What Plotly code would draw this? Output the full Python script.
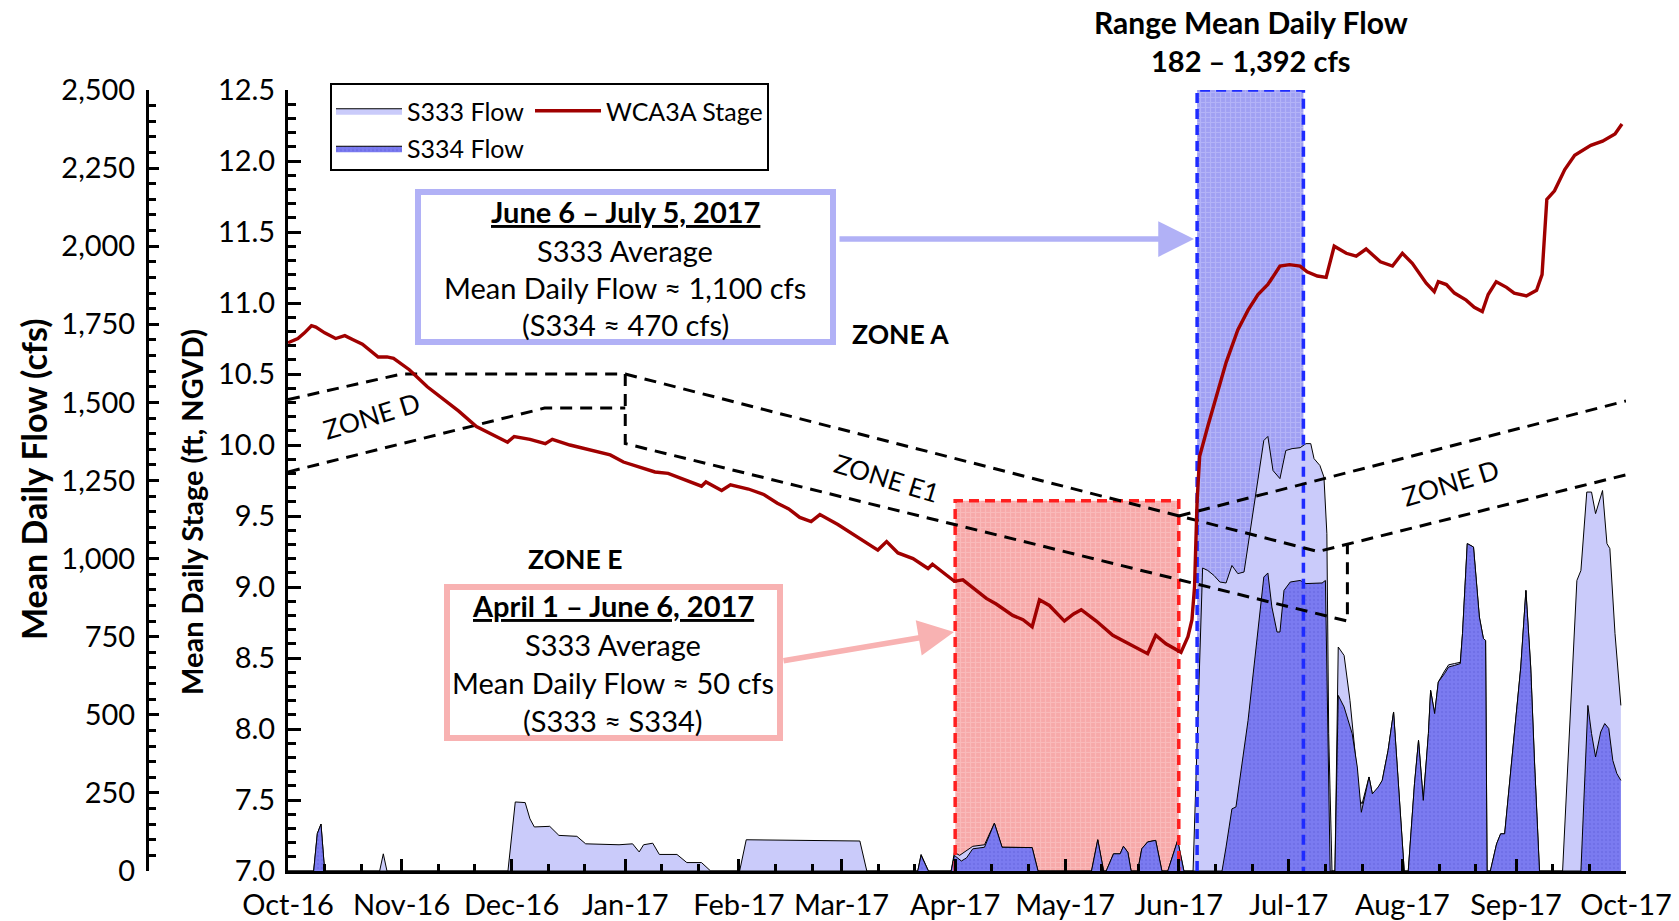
import pandas as pd
import plotly.graph_objects as go

BASE = pd.Timestamp("2016-10-01")

# ---------------- data (day = days since 2016-10-01) ----------------
stage_readings = [
    (0, 10.72), (2.7, 10.75), (4.5, 10.79), (6.4, 10.84), (7.6, 10.83), (10.0, 10.79), (13.0, 10.75),
    (15.5, 10.77), (17.9, 10.74), (20.3, 10.71), (24.6, 10.62), (27.0, 10.62), (28.8, 10.61),
    (33.1, 10.53), (38.0, 10.41), (41.6, 10.34), (46.5, 10.24), (51.4, 10.13), (56.2, 10.07),
    (59.9, 10.02), (61.7, 10.06), (66.0, 10.04), (70.2, 10.01), (72.1, 10.04), (76.9, 10.00),
    (81.8, 9.97), (87.9, 9.93), (91.5, 9.88), (95.2, 9.85), (100.1, 9.81), (103.7, 9.80),
    (108.0, 9.76), (112.8, 9.71), (114.0, 9.74), (118.3, 9.68), (120.7, 9.72), (125.6, 9.69),
    (129.9, 9.65), (133.5, 9.59), (136.6, 9.55), (139.6, 9.49), (142.7, 9.46), (145.1, 9.51),
    (150.0, 9.44), (156.1, 9.34), (160.9, 9.26), (163.3, 9.32), (166.4, 9.24), (170.5, 9.20),
    (174.6, 9.13), (175.8, 9.16), (178.7, 9.10), (181.8, 9.04), (184.1, 9.05), (190.5, 8.92),
    (193.2, 8.88), (197.7, 8.80), (200.5, 8.77), (203.0, 8.72), (205.0, 8.91), (207.7, 8.87),
    (211.8, 8.76), (214.3, 8.81), (216.4, 8.84), (220.5, 8.76), (225.0, 8.66), (228.7, 8.61),
    (231.2, 8.58), (234.5, 8.53), (236.7, 8.66), (239.5, 8.60), (243.6, 8.54), (245.5, 8.65),
    (246.6, 8.77), (247.3, 9.00), (248.0, 9.61), (248.7, 9.92), (250.9, 10.13), (253.1, 10.32),
    (255.9, 10.58), (259.1, 10.81), (261.9, 10.95), (264.6, 11.06), (267.3, 11.13), (270.6, 11.26),
    (273.2, 11.27), (276.1, 11.26), (278.0, 11.22), (280.8, 11.19), (283.2, 11.18), (285.4, 11.40),
    (288.7, 11.35), (291.4, 11.33), (294.1, 11.38), (298.0, 11.29), (301.3, 11.26), (304.0, 11.35),
    (306.7, 11.28), (310.5, 11.14), (312.7, 11.08), (313.8, 11.15), (316.0, 11.13), (318.2, 11.07),
    (321.4, 11.02), (323.6, 10.97), (325.8, 10.94), (327.4, 11.06), (329.6, 11.15), (332.4, 11.11),
    (334.5, 11.07), (337.8, 11.05), (340.6, 11.09), (342.1, 11.20), (343.4, 11.73), (345.5, 11.79),
    (348.3, 11.94), (351.0, 12.04), (355.4, 12.11), (358.6, 12.14), (362.0, 12.19), (363.9, 12.26),
]

s333_readings = [
    (0, 0), (7, 0), (8, 120), (9, 150), (10, 0), (25, 0), (26, 55), (27, 0), (60, 0), (62, 221),
    (64.7, 219), (66, 167), (67.2, 141), (71.4, 143), (73.9, 114), (78.8, 111), (81.2, 87), (90.3, 84),
    (94, 87), (95.8, 61), (97, 84), (99.5, 89), (101.3, 53), (106.1, 53), (108.8, 27), (112.8, 27),
    (115.3, 0), (123.2, 0), (125, 100), (140, 98), (156, 96), (157.9, 0), (171.8, 0), (172.7, 53),
    (174.7, 0), (180.9, 0), (181.8, 60), (183.2, 50), (186.8, 79), (190, 84), (192.7, 153), (194.8, 76),
    (203, 75), (204.6, 0), (219.2, 0), (220.9, 100), (222.5, 0), (223.2, 0), (225.2, 55), (227, 55),
    (227.9, 79), (229.1, 60), (230, 0), (231.8, 0), (232.9, 71), (234.5, 93), (236.7, 98), (238.4, 0),
    (240, 0), (242.7, 98), (244.4, 0), (246.9, 0), (249.5, 970), (250.9, 962), (252.6, 946),
    (254.2, 925), (255.9, 922), (257.5, 978), (259.1, 952), (260.8, 957), (262.4, 1080), (264.6, 1240),
    (266.2, 1378), (267.3, 1391), (268.7, 1282), (270.6, 1256), (272.2, 1346), (273.9, 1352),
    (276.1, 1355), (277.7, 1368), (279.0, 1368), (279.9, 1320), (281.5, 1298), (282.6, 1261),
    (283.4, 1080), (283.9, 440), (284.8, 0), (285.6, 0), (286.5, 717), (288.1, 690), (289.7, 546),
    (291.4, 343), (292.2, 231), (293.0, 215), (294.9, 301), (295.8, 247), (297.4, 263), (298.5, 290),
    (300.1, 386), (301.6, 509), (302.9, 269), (304.5, 0), (305.6, 0), (307.3, 279), (308.4, 418),
    (309.7, 226), (311.1, 440), (311.7, 578), (312.8, 504), (313.8, 605), (315.5, 640), (316.6, 660),
    (318.2, 664), (319.8, 668), (320.4, 760), (321.7, 1048), (323.4, 1037), (325.0, 813), (326.1, 744),
    (326.7, 738), (327.1, 0), (328.0, 0), (329.7, 87), (330.8, 119), (331.9, 119), (334.6, 440),
    (336.3, 653), (337.7, 898), (339.0, 653), (340.1, 333), (341.4, 0), (347.7, 0), (349.9, 546),
    (351.6, 930), (352.7, 962), (354.3, 1213), (355.6, 1213), (356.7, 1144), (358.6, 1218),
    (359.8, 1048), (360.6, 1032), (362.0, 760), (363.6, 530),
]

s334_readings = [
    (0, 0), (7, 0), (8, 120), (9, 150), (10, 0), (171.8, 0), (172.7, 50), (174.7, 0), (180.9, 0),
    (181.8, 50), (183.7, 32), (185.1, 42), (186.8, 71), (190, 76), (192.7, 153), (194.8, 76), (203, 75),
    (204.6, 0), (219.2, 0), (220.9, 100), (222.5, 0), (223.2, 0), (225.2, 55), (227, 55), (227.9, 79),
    (229.1, 60), (230, 0), (231.8, 0), (232.9, 71), (234.5, 93), (236.7, 98), (238.4, 0), (240, 0),
    (242.7, 98), (244.4, 0), (254.8, 0), (255.9, 77), (257.5, 199), (258.6, 205), (260.2, 333),
    (261.9, 482), (263.5, 653), (265.2, 824), (266.2, 941), (267.3, 954), (268.4, 845), (269.8, 765),
    (270.6, 765), (271.7, 898), (273.4, 925), (276.1, 930), (277.7, 920), (282.1, 922), (283.0, 930),
    (284.3, 0), (285.6, 0), (286.5, 562), (288.1, 525), (290.3, 440), (291.7, 333), (292.8, 188),
    (294.9, 301), (295.8, 247), (297.4, 269), (298.5, 290), (300.1, 386), (301.6, 509), (302.9, 269),
    (304.5, 0), (305.6, 0), (307.3, 279), (308.4, 418), (309.7, 226), (311.1, 440), (311.7, 578),
    (312.8, 504), (313.8, 605), (315.5, 632), (316.6, 653), (318.2, 658), (319.8, 664), (320.4, 760),
    (321.7, 1048), (323.4, 1037), (325.0, 813), (326.1, 744), (326.7, 738), (327.1, 0), (328.0, 0),
    (329.7, 87), (330.8, 119), (331.9, 119), (334.6, 440), (336.3, 653), (337.7, 898), (339.0, 653),
    (340.1, 333), (341.4, 0), (352.7, 0), (354.6, 530), (355.6, 440), (356.7, 365), (358.1, 445),
    (359.2, 472), (360.3, 456), (361.4, 354), (362.5, 312), (363.6, 290),
]

# regulation schedule boundaries (day, ft NGVD)
zone_a_line = [(0, 10.32), (31, 10.50), (92, 10.50), (281, 9.25), (365, 9.79)]
zone_d_right_top = [(243, 9.50), (365, 10.31)]
zone_d_left_bottom = [(0, 9.81), (70, 10.26), (92, 10.26)]
zone_e1_bottom = [(92, 10.50), (92, 10.01), (289, 8.76), (289, 9.31)]

month_ticks = ["2016-10-01", "2016-11-01", "2016-12-01", "2017-01-01", "2017-02-01", "2017-03-01",
               "2017-04-01", "2017-05-01", "2017-06-01", "2017-07-01", "2017-08-01", "2017-09-01",
               "2017-10-01"]
month_labels = ["Oct-16", "Nov-16", "Dec-16", "Jan-17", "Feb-17", "Mar-17", "Apr-17", "May-17",
                "Jun-17", "Jul-17", "Aug-17", "Sep-17", "Oct-17"]

dry_period = ("2017-04-01", "2017-06-01")
dry_top_cfs = 1185
wet_period = ("2017-06-06", "2017-07-05")
wet_top_cfs = 2500


def split(pairs):
    days = [BASE + pd.Timedelta(days=float(d)) for d, _ in pairs]
    vals = [v for _, v in pairs]
    return days, vals


# ---------------- geometry helpers (pixels -> paper) ----------------
W, H = 1679, 921
ML, MR, MT, MB = 100, 53, 90, 50
PW = W - ML - MR
PH = H - MT - MB


def px(x):
    return (x - ML) / PW


def py(y):
    return (H - MB - y) / PH


FONT = "Lato"
fig = go.Figure()

# highlight periods (flow axis = y)
for (p0, p1), top, bg, fg in [(dry_period, dry_top_cfs, "#F7A9A9", "#FCCCCC"),
                              (wet_period, wet_top_cfs, "#A0A0F3", "#C6C6FB")]:
    fig.add_trace(go.Scatter(
        x=[p0, p0, p1, p1, p0], y=[0, top, top, 0, 0], yaxis="y", fill="toself",
        fillcolor=bg, fillpattern=dict(shape="+", bgcolor=bg, fgcolor=fg, size=5, solidity=0.4),
        line=dict(width=0), mode="lines", showlegend=False, hoverinfo="skip"))

x333, y333 = split(s333_readings)
fig.add_trace(go.Scatter(x=x333, y=y333, yaxis="y", name="S333 Flow", mode="lines",
                         fill="tozeroy", fillcolor="#CACBFA",
                         line=dict(color="#000000", width=1), legend="legend", legendgroup="a"))
x334, y334 = split(s334_readings)
fig.add_trace(go.Scatter(x=x334, y=y334, yaxis="y", name="S334 Flow", mode="lines",
                         fill="tozeroy", fillcolor="#7B7BEE",
                         fillpattern=dict(shape=".", bgcolor="#7B7BF0", fgcolor="#6464DE", size=4, solidity=0.3),
                         line=dict(color="#000000", width=1), legend="legend", legendgroup="b"))

# dashed borders of highlight periods
for (p0, p1), top, col in [(dry_period, dry_top_cfs, "#FF1E1E"), (wet_period, wet_top_cfs, "#1E2BFF")]:
    fig.add_trace(go.Scatter(x=[p0, p0, p1, p1], y=[0, top, top, 0], yaxis="y", mode="lines",
                             line=dict(color=col, width=3.5, dash="10px,6px"), showlegend=False,
                             hoverinfo="skip"))

# regulation schedule lines (stage axis = y2)
for seg in [zone_a_line, zone_d_right_top, zone_d_left_bottom, zone_e1_bottom]:
    sx, sy = split(seg)
    fig.add_trace(go.Scatter(x=sx, y=sy, yaxis="y2", mode="lines",
                             line=dict(color="#000000", width=3, dash="12px,8px"),
                             showlegend=False, hoverinfo="skip"))

xs, ys = split(stage_readings)
fig.add_trace(go.Scatter(x=xs, y=ys, yaxis="y2", name="WCA3A Stage", mode="lines",
                         line=dict(color="#A00000", width=3.4), legend="legend2"))

minor_x = []
for m in month_ticks[:-1]:
    t = pd.Timestamp(m)
    minor_x += [str((t + pd.Timedelta(days=10)).date()), str((t + pd.Timedelta(days=20)).date())]

tickfont = dict(family=FONT, size=29, color="black")
fig.update_layout(
    width=W, height=H, margin=dict(l=ML, r=MR, t=MT, b=MB, autoexpand=False),
    paper_bgcolor="white", plot_bgcolor="white",
    font=dict(family=FONT, color="black"),
    xaxis=dict(type="date", domain=[px(288), 1], range=[month_ticks[0], month_ticks[-1]],
               tickmode="array", tickvals=month_ticks, ticktext=month_labels,
               ticks="inside", ticklen=12, tickwidth=3, tickcolor="black",
               showline=True, linewidth=3, linecolor="black", showgrid=False, zeroline=False,
               tickfont=tickfont, ticklabelstandoff=6,
               minor=dict(tickmode="array", tickvals=minor_x, ticks="inside", ticklen=7,
                          tickwidth=2.5, tickcolor="black", showgrid=False),
               anchor="y2"),
    yaxis=dict(range=[0, 2500], anchor="free", position=px(147), side="left",
               tickmode="linear", tick0=0, dtick=250, tickformat=",",
               ticks="inside", ticklen=10, tickwidth=3, tickcolor="black",
               showline=True, linewidth=3, linecolor="black", showgrid=False, zeroline=False,
               tickfont=tickfont, ticklabelstandoff=5,
               minor=dict(dtick=50, ticks="inside", ticklen=7, tickwidth=2.5, tickcolor="black",
                          showgrid=False)),
    yaxis2=dict(range=[7, 12.5], overlaying="y", anchor="x", side="left",
                tickmode="linear", tick0=7, dtick=0.5, tickformat=".1f",
                ticks="inside", ticklen=13, tickwidth=3, tickcolor="black",
                showline=True, linewidth=3, linecolor="black", showgrid=False, zeroline=False,
                tickfont=tickfont, ticklabelstandoff=4,
                minor=dict(dtick=0.1, ticks="inside", ticklen=8, tickwidth=2.5, tickcolor="black",
                           showgrid=False)),
    legend=dict(x=px(331), y=py(88), xanchor="left", yanchor="top", orientation="v",
                font=dict(family=FONT, size=25, color="black"), itemwidth=66,
                bgcolor="rgba(0,0,0,0)", borderwidth=0, tracegroupgap=2),
    legend2=dict(x=px(530), y=py(88), xanchor="left", yanchor="top",
                 font=dict(family=FONT, size=25, color="black"), itemwidth=66,
                 bgcolor="rgba(0,0,0,0)", borderwidth=0),
    showlegend=True,
)

shapes = [
    dict(type="rect", xref="paper", yref="paper", x0=px(331), x1=px(768), y0=py(170), y1=py(84),
         line=dict(color="black", width=2), fillcolor="rgba(0,0,0,0)", layer="above"),
    dict(type="rect", xref="paper", yref="paper", x0=px(418), x1=px(833), y0=py(342), y1=py(192),
         line=dict(color="#B1B1F6", width=6), fillcolor="white", layer="above"),
    dict(type="rect", xref="paper", yref="paper", x0=px(447), x1=px(780), y0=py(738), y1=py(587),
         line=dict(color="#F8B2B2", width=6), fillcolor="white", layer="above"),
]
fig.update_layout(shapes=shapes)


def note(text, x, y, size=29, bold=False, angle=0):
    if bold:
        text = "<b>" + text + "</b>"
    fig.add_annotation(text=text, x=px(x), y=py(y), xref="paper", yref="paper", showarrow=False,
                       xanchor="center", yanchor="middle", textangle=angle,
                       font=dict(family=FONT, size=size, color="black"))


# axis titles
note("Mean Daily Flow (cfs)", 33, 479, size=34, bold=True, angle=-90)
note("Mean Daily Stage (ft, NGVD)", 191, 512, size=29, bold=True, angle=-90)

# top title
note("Range Mean Daily Flow", 1251, 22, size=30, bold=True)
note("182 – 1,392 cfs", 1251, 61, size=29, bold=True)

# info boxes
note("<u>June 6 – July 5, 2017</u>", 625, 211, bold=True)
note("S333 Average", 625, 250)
note("Mean Daily Flow ≈ 1,100 cfs", 625, 287)
note("(S334 ≈ 470 cfs)", 625, 324)

note("<u>April 1 – June 6, 2017</u>", 613, 605, bold=True)
note("S333 Average", 613, 644)
note("Mean Daily Flow ≈ 50 cfs", 613, 682)
note("(S333 ≈ S334)", 613, 720)

# zone labels
note("ZONE A", 900, 334, size=26.5, bold=True)
note("ZONE E", 575, 559, size=26.5, bold=True)
note("ZONE D", 371, 416, size=26.5, angle=-17)
note("ZONE E1", 887, 478, size=26, angle=17)
note("ZONE D", 1450, 483, size=26.5, angle=-17)

# arrows
fig.add_annotation(x=px(1194), y=py(239), xref="paper", yref="paper", text="", showarrow=True,
                   ax=-356, ay=0, arrowhead=2, arrowsize=1.3, arrowwidth=5.5, arrowcolor="#B1B1F6",
                   standoff=0)
fig.add_annotation(x=px(954), y=py(632), xref="paper", yref="paper", text="", showarrow=True,
                   ax=-172, ay=29, arrowhead=2, arrowsize=1.3, arrowwidth=5.5, arrowcolor="#F8B2B2",
                   standoff=0)

fig.write_html("out.html", config={"displayModeBar": False},
               post_script="document.body.style.margin='0';document.body.style.overflow='hidden';")
